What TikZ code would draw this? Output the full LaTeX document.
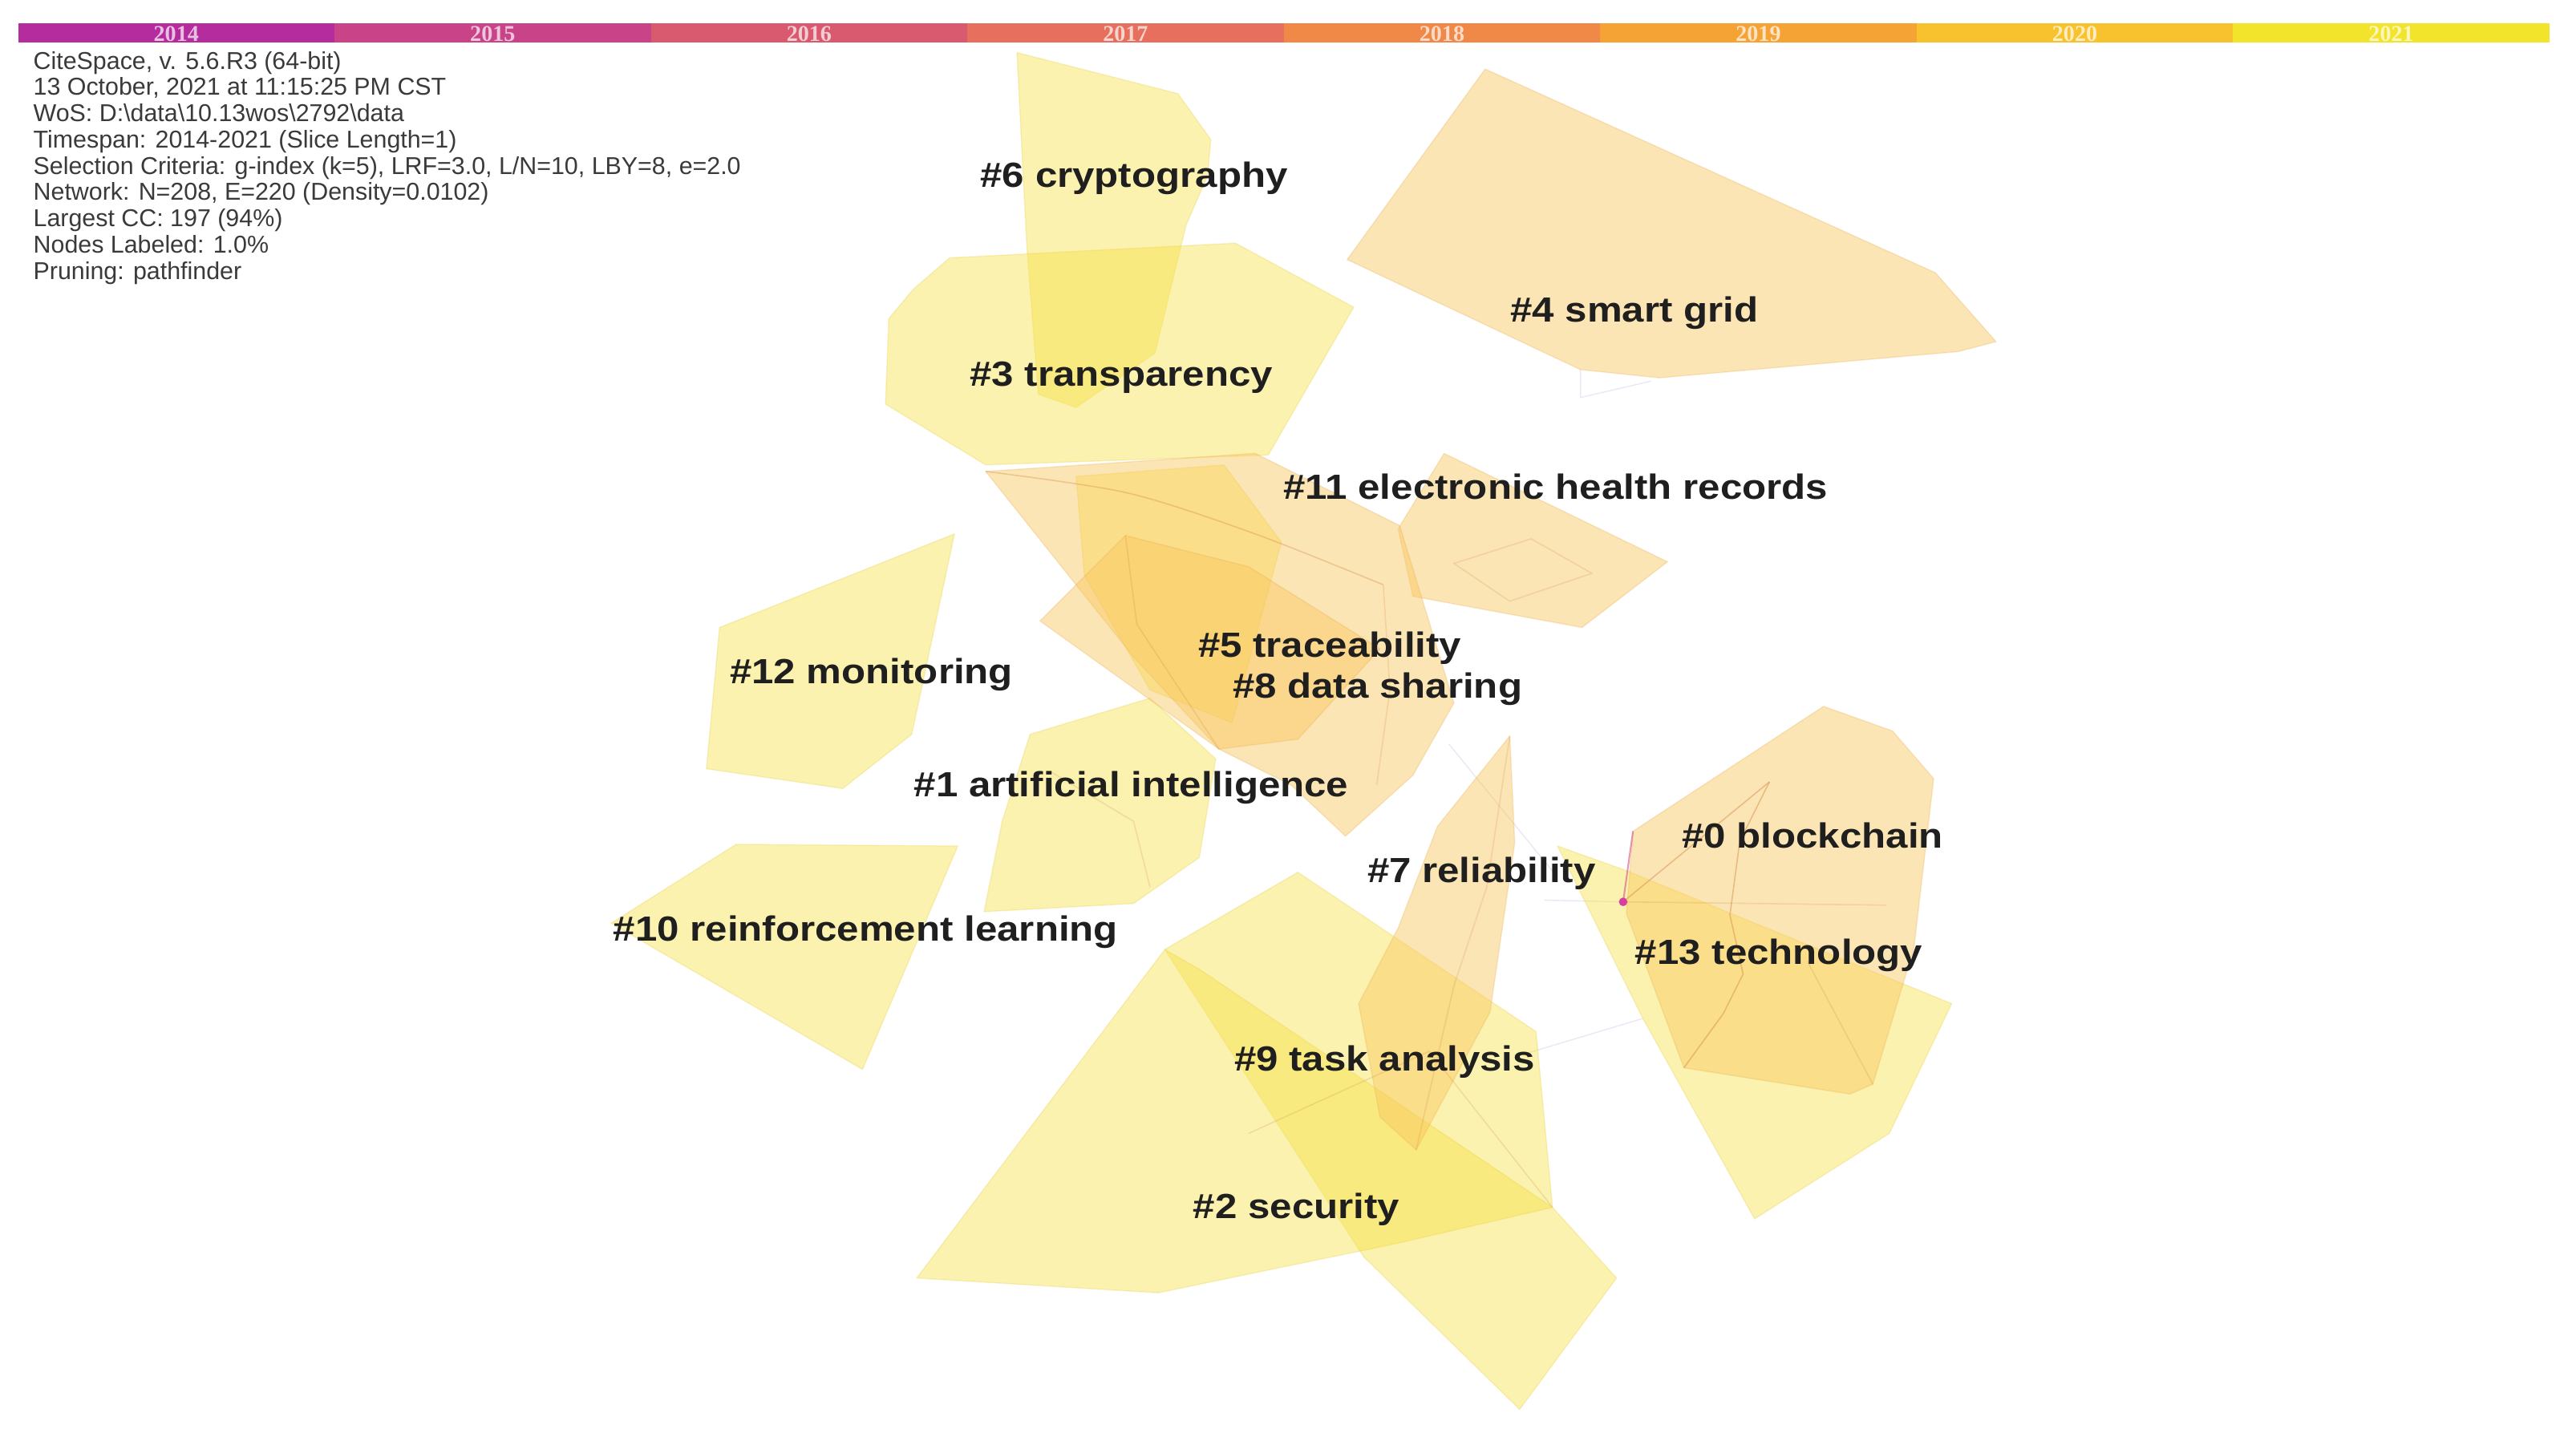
\documentclass[tikz,border=0pt]{standalone}
\usepackage{graphicx}
\usepackage{fontspec}
\setmainfont{Liberation Sans}
\newfontfamily\yearfont{Liberation Serif}
\definecolor{yel}{HTML}{F7E141}
\definecolor{ora}{HTML}{F9C75D}
\definecolor{yeledge}{HTML}{E8CC3A}
\definecolor{oraedge}{HTML}{E8A94A}
\definecolor{linkc}{HTML}{D08A48}
\definecolor{lav}{HTML}{E2D6EE}
\definecolor{infotext}{HTML}{3A3A3A}
\definecolor{dotc}{HTML}{D63FA0}
\definecolor{y2014}{HTML}{B52C9F}
\definecolor{y2015}{HTML}{C94388}
\definecolor{y2016}{HTML}{D9596F}
\definecolor{y2017}{HTML}{E6705D}
\definecolor{y2018}{HTML}{F08847}
\definecolor{y2019}{HTML}{F6A336}
\definecolor{y2020}{HTML}{F8C22E}
\definecolor{y2021}{HTML}{F2E42A}
\begin{document}
\begin{tikzpicture}[x=0.020485cm, y=-0.020485cm,
  yhull/.style={fill=yel, fill opacity=0.42, draw=yeledge, draw opacity=0.25, line width=0.4pt, line join=round},
  ohull/.style={fill=ora, fill opacity=0.46, draw=oraedge, draw opacity=0.25, line width=0.4pt, line join=round},
  link/.style={draw=linkc, draw opacity=0.22, line width=0.45pt},
  faint/.style={draw=lav, draw opacity=0.6, line width=0.4pt},
  clabel/.style={anchor=base west, inner sep=0pt, font=\fontsize{12.4}{14}\selectfont\bfseries, text=black!88},
  info/.style={anchor=base west, inner sep=0pt, font=\fontsize{8.65}{9.3}\selectfont, text=infotext},
  yearlab/.style={inner sep=0pt, font=\yearfont\fontsize{8}{8}\selectfont\bfseries, text=white, text opacity=0.7}
]
\fill[white] (0,0) rectangle (1568,872);
\path[use as bounding box] (0,0) rectangle (1568,872);

% year bar
\foreach \i/\c/\yr in {0/y2014/2014,1/y2015/2015,2/y2016/2016,3/y2017/2017,4/y2018/2018,5/y2019/2019,6/y2020/2020,7/y2021/2021}{
  \fill[\c] ({11+\i*192.6},14) rectangle ({11+(\i+1)*192.6},26);
  \node[yearlab] (yr\yr) at ({11+(\i+0.5)*192.6},20.5) {\yr};
}

% info block
\node[info] (info1) at (20,42)  {CiteSpace, v. 5.6.R3 (64-bit)};
\node[info] (info2) at (20,58)  {13 October, 2021 at 11:15:25 PM CST};
\node[info] (info3) at (20,74)  {WoS: D:\textbackslash data\textbackslash 10.13wos\textbackslash 2792\textbackslash data};
\node[info] (info4) at (20,90)  {Timespan: 2014-2021 (Slice Length=1)};
\node[info] (info5) at (20,106) {Selection Criteria: g-index (k=5), LRF=3.0, L/N=10, LBY=8, e=2.0};
\node[info] (info6) at (20,122) {Network: N=208, E=220 (Density=0.0102)};
\node[info] (info7) at (20,138) {Largest CC: 197 (94\%)};
\node[info] (info8) at (20,154) {Nodes Labeled: 1.0\%};
\node[info] (info9) at (20,170) {Pruning: pathfinder};

% faint inter-cluster links
\draw[faint] (930,641) -- (1000,620);
\draw[faint] (882,453) -- (948,534);
\draw[faint] (962,225) -- (962,242) -- (1005,232);
\draw[faint] (988,549) -- (940,548);

% yellow hulls
\draw[yhull] (619,32) -- (717,57) -- (737,85) -- (735,107) -- (722,137) -- (703,215) -- (655,248) -- (632,240) -- (625,150) -- cycle;
\draw[yhull] (578,157) -- (752,148) -- (824,187) -- (772,277) -- (600,283) -- (539,246) -- (541,194) -- (556,176) -- cycle;
\draw[yhull] (581,325) -- (438,382) -- (430,468) -- (513,480) -- (555,447) -- cycle;
\draw[yhull] (448,514) -- (583,515) -- (525,651) -- (372,562) -- cycle;
\draw[yhull] (627,447) -- (700,425) -- (740,462) -- (730,522) -- (690,550) -- (599,555) -- (610,500) -- cycle;
\draw[yhull] (655,290) -- (745,283) -- (780,330) -- (750,440) -- (700,420) -- (660,350) -- cycle;
\draw[yhull] (790,531) -- (935,628) -- (945,735) -- (984,778) -- (925,858) -- (830,765) -- (709,578) -- cycle;
\draw[yhull] (558,778) -- (709,578) -- (730,590) -- (945,735) -- (850,757) -- (705,787) -- cycle;
\draw[yhull] (948,515) -- (990,530) -- (1188,611) -- (1150,690) -- (1068,742) -- (1000,620) -- cycle;

% orange hulls
\draw[ohull] (904,42) -- (1178,166) -- (1215,208) -- (1192,214) -- (1010,230) -- (962,225) -- (820,158) -- cycle;
\draw[ohull] (879,276) -- (1015,342) -- (963,382) -- (860,363) -- (851,322) -- cycle;
\draw[ohull] (600,287) -- (764,276) -- (852,320) -- (885,428) -- (860,472) -- (819,509) -- (786,478) -- (742,456) -- (690,400) -- cycle;
\draw[ohull] (633,378) -- (685,326) -- (760,345) -- (840,395) -- (790,450) -- (742,456) -- cycle;
\draw[ohull] (919,448) -- (922,513) -- (907,616) -- (862,700) -- (840,680) -- (827,611) -- (851,565) -- (875,503) -- cycle;
\draw[ohull] (994,506) -- (1110,430) -- (1152,445) -- (1177,474) -- (1165,577) -- (1140,660) -- (1126,666) -- (1025,650) -- (990,556) -- cycle;

% internal links
\draw[link, draw opacity=0.35] plot[smooth] coordinates {(600,287) (686,300) (764,325) (842,356)};
\draw[link] (842,356) -- (846,420) -- (838,478);
\draw[link] (685,326) -- (692,380) -- (742,456);
\draw[link] (885,343) -- (932,328) -- (969,349) -- (919,366) -- cycle;
\draw[link] (919,448) -- (905,540) -- (885,600) -- (862,700);
\draw[link] (760,690) -- (870,640) -- (945,735);
\draw[link] (640,470) -- (690,500) -- (700,540);
\draw[link, draw opacity=0.45] (1077,476) -- (1059,512) -- (1053,557) -- (1061,593) -- (1049,617) -- (1025,650);
\draw[link, draw opacity=0.45] (988,549) -- (1077,476);
\draw[link] (988,549) -- (1148,551);
\draw[link] (1100,585) -- (1140,660);
\draw[draw=dotc!70!linkc, draw opacity=0.6, line width=0.6pt] (988,549) -- (994,506);
\fill[dotc] (988,549) circle (2.6);

% cluster labels
\node[clabel] (c6)  at (596.5,114) {\scalebox{1.13}[1]{\#6 cryptography}};
\node[clabel] (c4)  at (919,196)   {\scalebox{1.13}[1]{\#4 smart grid}};
\node[clabel] (c3)  at (590,235)   {\scalebox{1.13}[1]{\#3 transparency}};
\node[clabel] (c11) at (781,304)   {\scalebox{1.13}[1]{\#11 electronic health records}};
\node[clabel] (c5)  at (729,400)   {\scalebox{1.13}[1]{\#5 traceability}};
\node[clabel] (c12) at (444,416)   {\scalebox{1.13}[1]{\#12 monitoring}};
\node[clabel] (c8)  at (750,425)   {\scalebox{1.13}[1]{\#8 data sharing}};
\node[clabel] (c1)  at (556,485)   {\scalebox{1.13}[1]{\#1 artificial intelligence}};
\node[clabel] (c0)  at (1023.5,516){\scalebox{1.13}[1]{\#0 blockchain}};
\node[clabel] (c7)  at (832,537)   {\scalebox{1.13}[1]{\#7 reliability}};
\node[clabel] (c10) at (373,573)   {\scalebox{1.13}[1]{\#10 reinforcement learning}};
\node[clabel] (c13) at (995,587)   {\scalebox{1.13}[1]{\#13 technology}};
\node[clabel] (c9)  at (751,652)   {\scalebox{1.13}[1]{\#9 task analysis}};
\node[clabel] (c2)  at (726,742)   {\scalebox{1.13}[1]{\#2 security}};
\end{tikzpicture}
\end{document}
